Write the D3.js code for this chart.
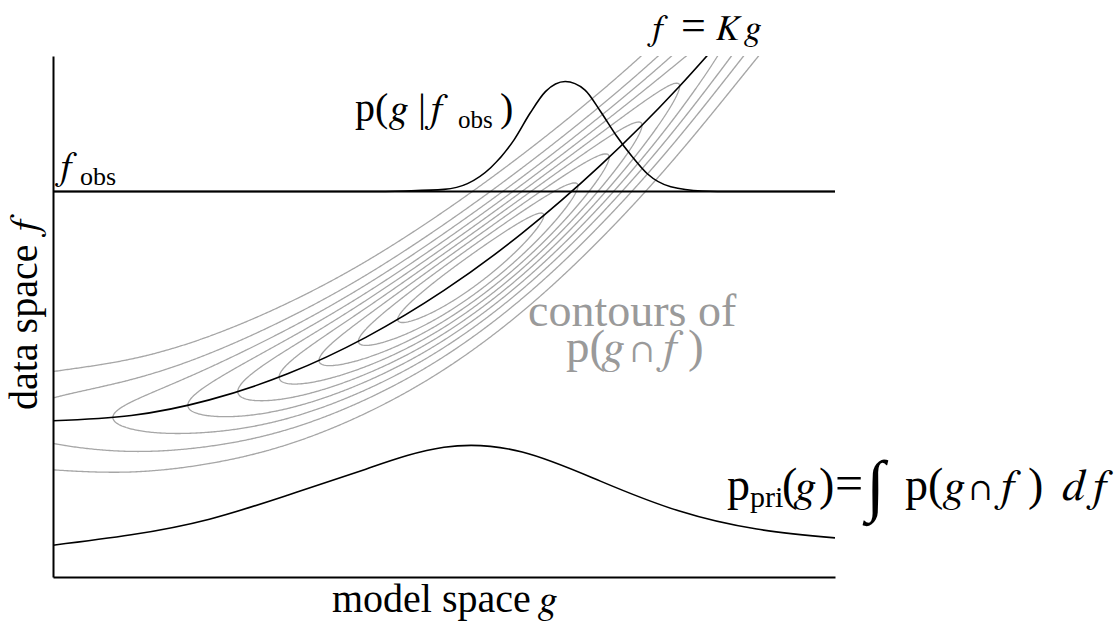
<!DOCTYPE html>
<html><head><meta charset="utf-8">
<script src="https://cdn.jsdelivr.net/npm/d3@7"></script>
<style>
body{margin:0;background:#fff}
svg{display:block}
</style>
</head><body>
<svg id="chart" width="1119" height="621"></svg>
<script>
// ---------------- data ----------------
// forward model curve f = K g  (g, f in axis units 0..1)
const forwardG = [0, 0.1, 0.2, 0.3, 0.4, 0.5, 0.6, 0.7, 0.8, 0.9];
const forwardF = [0.30, 0.31, 0.34, 0.39, 0.46, 0.55, 0.66, 0.79, 0.94, 1.11];
// prior p_pri(g), drawn as height above the g axis
const priorG = [0, 0.1, 0.2, 0.3, 0.4, 0.5, 0.6, 0.7, 0.8, 0.9, 1.0];
const priorP = [0.061, 0.081, 0.111, 0.157, 0.207, 0.249, 0.240, 0.184, 0.127, 0.092, 0.075];
// observed data value
const fObs = 0.74;
// posterior p(g|f_obs), drawn as height above the f_obs line
const postG = [0, 0.40, 0.45, 0.50, 0.53, 0.56, 0.59, 0.61, 0.63, 0.655, 0.68, 0.70, 0.72, 0.74, 0.76, 0.79, 0.83, 0.87, 1.0];
const postH = [0, 0, 0.001, 0.004, 0.015, 0.046, 0.100, 0.150, 0.192, 0.211, 0.195, 0.154, 0.108, 0.068, 0.034, 0.009, 0.001, 0, 0];
// spread of data about f = K g, and contour levels (fraction of max of p(g∩f))
const noiseSigma = 0.071;
const contourLevels = [0.1, 0.2, 0.3, 0.4, 0.5, 0.6, 0.7, 0.8, 0.9];

// ---------------- layout ----------------
const ROMAN = "Liberation Serif", ITALIC = "FreeSerif", SYMBOL = "FreeSerif";
const svg = d3.select("#chart");
const x = d3.scaleLinear().domain([0, 1]).range([53, 835]);
const y = d3.scaleLinear().domain([0, 1]).range([577, 56]);

svg.append("defs").append("clipPath").attr("id", "plotclip")
  .append("rect").attr("x", x(0)).attr("y", y(1)).attr("width", x(1) - x(0)).attr("height", y(0) - y(1));

// natural cubic spline through uniformly spaced samples (same curve d3.curveNatural draws)
function naturalSpline(xs, ys) {
  const n = xs.length, h = xs[1] - xs[0];
  const M = new Array(n).fill(0);
  if (n > 2) {
    const m = n - 2, c = new Array(m), d = new Array(m);
    for (let i = 0; i < m; i++) {
      const rhs = 6 / (h * h) * (ys[i + 2] - 2 * ys[i + 1] + ys[i]);
      if (i === 0) { c[i] = 1 / 4; d[i] = rhs / 4; }
      else { const den = 4 - c[i - 1]; c[i] = 1 / den; d[i] = (rhs - d[i - 1]) / den; }
    }
    for (let i = m - 1; i >= 0; i--) M[i + 1] = d[i] - (i < m - 1 ? c[i] * M[i + 2] : 0);
  }
  const s0 = (ys[1] - ys[0]) / h - h * (2 * M[0] + M[1]) / 6;
  const s1 = (ys[n - 1] - ys[n - 2]) / h + h * (M[n - 2] + 2 * M[n - 1]) / 6;
  return function (v) {
    if (v <= xs[0]) return ys[0] + s0 * (v - xs[0]);
    if (v >= xs[n - 1]) return ys[n - 1] + s1 * (v - xs[n - 1]);
    let i = Math.min(n - 2, Math.floor((v - xs[0]) / h));
    const a = xs[i + 1] - v, b = v - xs[i];
    return M[i] * a * a * a / (6 * h) + M[i + 1] * b * b * b / (6 * h)
      + (ys[i] / h - M[i] * h / 6) * a + (ys[i + 1] / h - M[i + 1] * h / 6) * b;
  };
}
const Kfun = naturalSpline(forwardG, forwardF);
const priorFun = naturalSpline(priorG, priorP);

// ---------------- contours of p(g ∩ f) = p_pri(g) · N(f; Kg, σ) ----------------
const step = 1.5, gx0 = 30, gx1 = 900, gy0 = 0, gy1 = 590;
const nx = Math.ceil((gx1 - gx0) / step) + 1, ny = Math.ceil((gy1 - gy0) / step) + 1;
const vals = new Float64Array(nx * ny);
for (let j = 0; j < ny; j++) {
  const f = y.invert(gy0 + j * step);
  for (let i = 0; i < nx; i++) {
    const g = x.invert(gx0 + i * step);
    const r = (f - Kfun(g)) / noiseSigma;
    vals[j * nx + i] = Math.max(priorFun(g), 0) * Math.exp(-0.5 * r * r);
  }
}
const vmax = d3.max(vals);
const contours = d3.contours().size([nx, ny]).thresholds(contourLevels.map(l => l * vmax))(vals);
const gridPath = d3.geoPath(d3.geoTransform({
  point(px, py) { this.stream.point(gx0 + (px - 0.5) * step, gy0 + (py - 0.5) * step); }
}));
const plot = svg.append("g").attr("clip-path", "url(#plotclip)");
plot.append("g").selectAll("path").data(contours).join("path")
  .attr("d", gridPath).attr("fill", "none").attr("stroke", "#a6a6a6").attr("stroke-width", 1.3);

// ---------------- black curves ----------------
const fwdPts = forwardG.map((g, i) => [g, forwardF[i]]);
plot.append("path").attr("d", d3.line().x(d => x(d[0])).y(d => y(d[1])).curve(d3.curveNatural)(fwdPts))
  .attr("fill", "none").attr("stroke", "#000").attr("stroke-width", 1.6);

plot.append("path").attr("d", d3.line().x(d => x(d[0])).y(d => y(d[1])).curve(d3.curveNatural)(priorG.map((g, i) => [g, priorP[i]])))
  .attr("fill", "none").attr("stroke", "#000").attr("stroke-width", 1.6);

svg.append("path").attr("d", d3.line().x(d => x(d[0])).y(d => y(d[1]))([[0, fObs], [1, fObs]]))
  .attr("fill", "none").attr("stroke", "#000").attr("stroke-width", 2);

svg.append("path").attr("d", d3.line().x(d => x(d[0])).y(d => y(fObs + d[1])).curve(d3.curveMonotoneX)(postG.map((g, i) => [g, postH[i]])))
  .attr("fill", "none").attr("stroke", "#000").attr("stroke-width", 1.6);

// ---------------- axes (domain lines only) ----------------
svg.append("g").attr("transform", `translate(${x(0)},0)`)
  .call(d3.axisLeft(y).tickValues([]).tickSizeOuter(0))
  .call(g => g.select(".domain").attr("stroke", "#000").attr("stroke-width", 2));
svg.append("g").attr("transform", `translate(0,${y(0)})`)
  .call(d3.axisBottom(x).tickValues([]).tickSizeOuter(0))
  .call(g => g.select(".domain").attr("stroke", "#000").attr("stroke-width", 2));

// ---------------- labels (each run its own text element) ----------------
function run(parent, xp, yp, size, str, o) {
  o = o || {};
  const t = parent.append("text").attr("x", xp).attr("y", yp).attr("font-size", size)
    .attr("font-family", o.font || (o.i ? ITALIC : ROMAN))
    .attr("fill", o.c || "#000").text(str);
  if (o.i) t.attr("font-style", "italic");
  return t;
}
const L = svg.append("g");
// f = Kg
run(L, 650, 40, 36, "f", {i: 1});
run(L, 681, 40, 44, "=");
run(L, 716, 40, 36, "K", {i: 1});
run(L, 745, 40, 36, "g", {i: 1});
// p(g|f_obs)
run(L, 355, 121, 40, "p(");
run(L, 390, 121, 40, "g", {i: 1});
run(L, 418, 121, 40, "|");
run(L, 428, 121, 40, "f", {i: 1});
run(L, 458, 128, 25, "obs");
run(L, 500, 121, 40, ")");
// f_obs
run(L, 58, 178, 38, "f", {i: 1});
run(L, 80, 185, 26, "obs");
// axis titles
run(L, 332, 612, 40, "model space");
run(L, 539, 612, 40, "g", {i: 1});
const R = svg.append("g").attr("transform", "rotate(-90)");
run(R, -410, 37, 40, "data space");
run(R, -234, 37, 40, "f", {i: 1});
// grey contour label
const GREY = "#9a9a9a";
run(L, 528, 326, 46, "contours of", {c: GREY});
run(L, 566, 362, 47, "p(", {c: GREY});
run(L, 603, 362, 47, "g", {i: 1, c: GREY});
run(L, 632, 362, 36, "∩", {font: SYMBOL, c: GREY});
run(L, 660, 362, 47, "f", {i: 1, c: GREY});
run(L, 688, 362, 47, ")", {c: GREY});
// prior formula
run(L, 727, 500, 46, "p");
run(L, 750, 507, 30, "pri");
run(L, 782, 500, 46, "(");
run(L, 795, 500, 46, "g", {i: 1});
run(L, 819, 500, 46, ")");
run(L, 835, 500, 50, "=");
run(L, 866, 508, 68, "∫", {font: ROMAN});
run(L, 905, 500, 46, "p(");
run(L, 944, 500, 46, "g", {i: 1});
run(L, 971, 500, 34, "∩", {font: SYMBOL});
run(L, 998, 500, 46, "f", {i: 1});
run(L, 1028, 500, 46, ")");
run(L, 1062, 500, 46, "d", {i: 1});
run(L, 1090, 500, 46, "f", {i: 1});
</script>
</body></html>
